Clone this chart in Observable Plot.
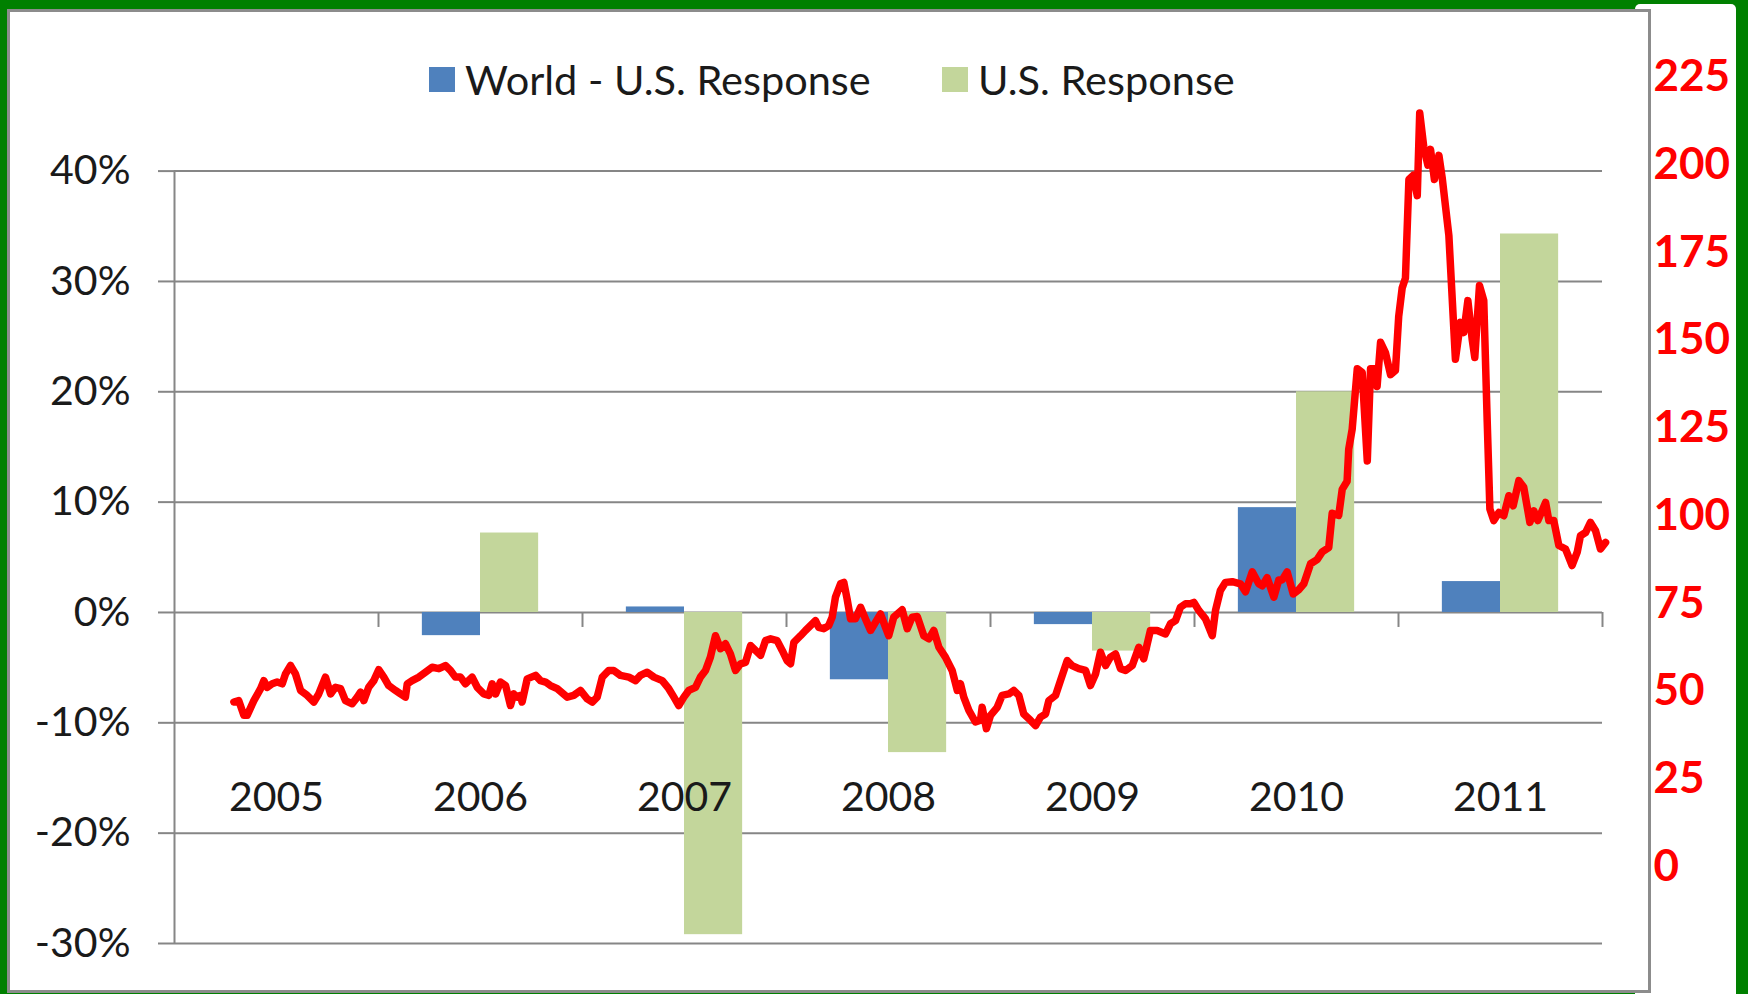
<!DOCTYPE html>
<html>
<head>
<meta charset="utf-8">
<script src="https://cdn.jsdelivr.net/npm/d3@7"></script>
<script src="https://cdn.jsdelivr.net/npm/@observablehq/plot@0.6"></script>
<style>
  html, body { margin: 0; padding: 0; }
  body { width: 1748px; height: 994px; background: #008000; position: relative; overflow: hidden; font-family: Lato, "Open Sans", sans-serif; }
  #strip { position: absolute; left: 1635px; top: 4px; width: 101px; height: 990px; background: #fff; border-radius: 5px 5px 0 0; }
  #box { position: absolute; left: 7px; top: 9px; width: 1644px; height: 984px; background: #fff; border: 3px solid #8c8c8c; box-sizing: border-box; }
  #chart { position: absolute; left: 0; top: 0; }
  .leg { position: absolute; top: 58px; height: 42px; display: flex; align-items: center; font-size: 41.5px; color: #1a1a1a; white-space: nowrap; }
  .sw { width: 26px; height: 25px; margin-right: 10px; }
</style>
</head>
<body>
<div id="strip"></div>
<div id="box"></div>
<div id="chart"></div>
<div class="leg" style="left:429px"><div class="sw" style="background:#4F81BD"></div><span>World - U.S. Response</span></div>
<div class="leg" style="left:942px"><div class="sw" style="background:#C3D69B"></div><span>U.S. Response</span></div>
<script>
// ---- data ----
const categories = ["2005", "2006", "2007", "2008", "2009", "2010", "2011"];
const worldMinusUS = [null, -0.021, 0.005, -0.061, -0.011, 0.095, 0.028];
const usResponse = [null, 0.072, -0.292, -0.127, -0.035, 0.200, 0.343];
const leftTicks = [-0.3, -0.2, -0.1, 0, 0.1, 0.2, 0.3, 0.4];
const rightTicks = [0, 25, 50, 75, 100, 125, 150, 175, 200, 225];
// right-axis (cents) to left-axis (%) correspondence
const rightDomain = [0, 225];
const rightOnLeft = [-0.2303, 0.4852];
// red line: [position along the year axis (2005 = 0), right-axis value]
const cottonLine = [
[-0.209,46.9],[-0.185,47.3],[-0.160,43.1],[-0.144,43.1],[-0.111,47.3],[-0.078,50.7],[-0.062,53.0],[-0.046,51.1],[-0.021,52.1],[0.003,52.6],
[0.028,52.1],[0.044,54.9],[0.069,57.3],[0.093,54.9],[0.118,50.2],[0.150,48.8],[0.183,46.9],[0.207,49.2],[0.240,54.0],[0.265,49.2],
[0.289,51.1],[0.314,50.7],[0.338,47.3],[0.371,46.4],[0.396,48.3],[0.412,49.7],[0.428,47.3],[0.452,51.1],[0.477,53.0],[0.501,56.1],
[0.526,54.0],[0.550,51.6],[0.583,50.2],[0.608,49.2],[0.632,48.3],[0.641,52.1],[0.665,53.0],[0.698,54.0],[0.730,55.4],[0.763,56.8],
[0.796,56.4],[0.828,57.3],[0.853,55.9],[0.877,54.0],[0.902,54.0],[0.926,52.1],[0.959,54.0],[0.984,51.1],[1.016,49.2],[1.041,48.8],
[1.057,52.1],[1.074,49.2],[1.098,52.6],[1.123,51.6],[1.147,45.9],[1.163,49.2],[1.180,48.3],[1.196,48.8],[1.204,46.9],[1.229,53.5],
[1.270,54.5],[1.294,53.0],[1.319,52.6],[1.343,51.6],[1.376,50.7],[1.425,48.3],[1.457,48.8],[1.490,50.2],[1.523,47.8],[1.548,46.9],
[1.572,48.3],[1.597,54.0],[1.629,55.9],[1.653,55.9],[1.686,54.5],[1.727,54.0],[1.760,53.0],[1.784,54.5],[1.817,55.4],[1.850,54.0],
[1.891,53.0],[1.923,50.7],[1.948,48.3],[1.972,45.9],[1.997,48.3],[2.021,50.2],[2.054,51.1],[2.078,54.0],[2.103,55.9],[2.127,59.7],
[2.152,65.8],[2.176,62.1],[2.201,63.5],[2.225,60.6],[2.250,55.9],[2.275,57.8],[2.299,58.2],[2.324,63.0],[2.348,61.6],[2.373,60.2],
[2.397,64.4],[2.422,64.9],[2.454,64.4],[2.479,61.6],[2.503,58.7],[2.520,57.8],[2.536,63.9],[2.569,65.8],[2.593,67.3],[2.618,68.7],
[2.642,70.1],[2.658,68.2],[2.683,67.8],[2.707,68.7],[2.724,71.1],[2.740,76.8],[2.765,80.6],[2.781,81.0],[2.797,76.3],[2.814,70.6],
[2.838,70.6],[2.863,73.9],[2.887,70.6],[2.912,67.3],[2.936,69.6],[2.961,72.0],[2.985,68.2],[3.001,65.8],[3.026,71.1],[3.067,73.2],
[3.092,67.8],[3.116,71.1],[3.141,71.3],[3.173,65.8],[3.198,64.9],[3.222,67.3],[3.247,62.5],[3.279,59.7],[3.312,55.9],[3.337,50.2],
[3.353,52.1],[3.369,48.3],[3.394,44.5],[3.426,41.2],[3.451,41.7],[3.459,45.4],[3.480,39.3],[3.500,43.1],[3.533,45.4],[3.557,48.8],
[3.590,49.2],[3.614,50.2],[3.639,48.8],[3.663,43.5],[3.696,41.7],[3.721,40.2],[3.745,42.6],[3.770,43.5],[3.786,47.3],[3.819,48.8],
[3.843,53.0],[3.876,58.7],[3.900,57.3],[3.933,56.4],[3.966,55.9],[3.990,51.6],[4.015,54.9],[4.039,61.1],[4.064,57.3],[4.088,59.7],
[4.113,60.6],[4.137,56.4],[4.162,55.9],[4.195,57.3],[4.227,62.5],[4.251,59.2],[4.284,67.3],[4.317,67.3],[4.358,66.3],[4.382,69.2],
[4.407,70.1],[4.431,73.9],[4.456,74.9],[4.480,74.9],[4.497,75.3],[4.521,73.0],[4.554,70.6],[4.587,65.8],[4.603,73.0],[4.627,78.7],
[4.652,81.0],[4.685,81.2],[4.725,80.6],[4.750,78.3],[4.783,84.0],[4.815,80.6],[4.832,80.0],[4.856,82.3],[4.889,76.8],[4.913,81.7],
[4.930,81.7],[4.954,84.0],[4.984,77.7],[5.011,78.9],[5.036,80.6],[5.069,86.3],[5.101,87.5],[5.126,89.7],[5.158,90.9],[5.175,100.7],
[5.207,100.1],[5.224,107.5],[5.248,109.8],[5.256,119.0],[5.273,124.7],[5.298,141.9],[5.322,140.8],[5.347,115.6],[5.363,141.9],[5.382,141.9],
[5.395,136.8],[5.412,149.4],[5.436,146.5],[5.461,140.2],[5.485,141.4],[5.501,156.8],[5.518,164.9],[5.534,167.7],[5.551,195.8],[5.572,197.0],
[5.592,191.2],[5.604,214.8],[5.624,205.0],[5.644,199.9],[5.657,204.4],[5.676,195.8],[5.698,202.7],[5.714,196.4],[5.747,179.8],[5.779,144.6],
[5.804,155.1],[5.820,152.2],[5.840,161.3],[5.861,150.3],[5.874,145.1],[5.897,165.6],[5.918,161.3],[5.935,126.6],[5.948,101.9],[5.967,98.6],
[5.992,100.9],[6.016,100.0],[6.041,105.7],[6.062,102.8],[6.090,110.0],[6.114,108.1],[6.144,98.1],[6.163,101.4],[6.183,98.6],[6.204,101.4],
[6.221,103.8],[6.237,98.6],[6.261,98.6],[6.286,91.5],[6.319,90.5],[6.351,85.8],[6.376,89.6],[6.392,94.3],[6.417,95.2],[6.441,98.1],
[6.466,95.7],[6.490,90.5],[6.515,92.4]
];

// ---- derived tables ----
const BLUE = "#4F81BD", GREEN = "#C3D69B", GRID = "#868686", INK = "#1a1a1a", RED = "#FF0000";
const barW = 0.285;
const xDomain = [-0.5, categories.length - 0.5];
const bounds = categories.map((c, i) => i + 0.5);
const toLeft = d3.scaleLinear(rightDomain, rightOnLeft);
const blueBars = categories.map((c, i) => ({c, x1: i - barW, x2: i, v: worldMinusUS[i]})).filter(d => d.v != null);
const greenBars = categories.map((c, i) => ({c, x1: i, x2: i + barW, v: usResponse[i]})).filter(d => d.v != null);
const lineData = cottonLine.map(([p, v]) => ({p, v}));
const pctFmt = d => `${Math.round(d * 100)}%`;

const chart = Plot.plot({
  width: 1748,
  height: 994,
  marginLeft: 174,
  marginRight: 146,
  marginTop: 170.6,
  marginBottom: 51,
  style: {background: "transparent", fontFamily: "Lato, 'Open Sans', sans-serif", overflow: "visible"},
  x: {domain: xDomain, axis: null},
  y: {domain: [leftTicks[0], leftTicks[leftTicks.length - 1]], label: null},
  marks: [
    Plot.gridY(leftTicks, {stroke: GRID, strokeOpacity: 1, strokeWidth: 2}),
    Plot.ruleX([xDomain[0]], {y1: leftTicks[0], y2: leftTicks[leftTicks.length - 1], stroke: GRID, strokeWidth: 2}),
    Plot.axisY(leftTicks, {anchor: "left", label: null, tickSize: 16, tickPadding: 28, tickFormat: pctFmt, stroke: GRID, strokeWidth: 2, fill: INK, fontSize: 41}),
    Plot.ruleX(bounds, {x: d => d, y1: 0, y2: 0, insetBottom: -15, stroke: GRID, strokeWidth: 2}),
    Plot.rect(blueBars, {x1: "x1", x2: "x2", y1: 0, y2: "v", fill: BLUE}),
    Plot.rect(greenBars, {x1: "x1", x2: "x2", y1: 0, y2: "v", fill: GREEN}),
    Plot.line(lineData, {x: "p", y: d => toLeft(d.v), stroke: RED, strokeWidth: 7.5, strokeLinejoin: "round", strokeLinecap: "round"}),
    Plot.text(categories, {x: (d, i) => i, text: d => d, frameAnchor: "bottom", lineAnchor: "middle", dy: -146, fill: INK, fontSize: 41}),
    Plot.text(rightTicks, {y: d => toLeft(d), text: d => String(d), frameAnchor: "right", dx: 51, textAnchor: "start", fill: RED, fontSize: 44, fontWeight: "bold"})
  ]
});
document.getElementById("chart").appendChild(chart);
</script>
</body>
</html>
